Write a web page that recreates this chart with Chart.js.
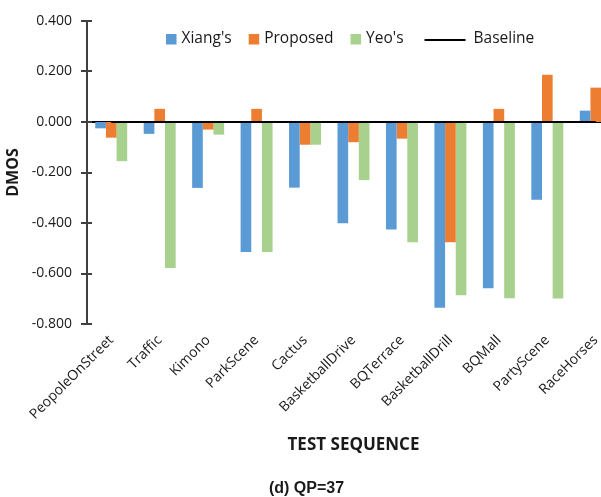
<!DOCTYPE html>
<html>
<head>
<meta charset="utf-8">
<script src="https://cdn.jsdelivr.net/npm/chart.js@4.4.0/dist/chart.umd.min.js"></script>
<style>
  html, body { margin: 0; padding: 0; background: #fff; overflow: hidden; }
  #wrap { width: 622px; height: 497px; position: relative; }
</style>
</head>
<body>
<div id="wrap"><canvas id="c"></canvas></div>
<script>
// Test sequences on the x axis
const sequences = ['PeopoleOnStreet', 'Traffic', 'Kimono', 'ParkScene', 'Cactus',
  'BasketballDrive', 'BQTerrace', 'BasketballDrill', 'BQMall', 'PartyScene', 'RaceHorses'];

// DMOS per method
const xiang    = [-0.025, -0.047, -0.261, -0.515, -0.260, -0.401, -0.426, -0.736, -0.658, -0.308, 0.045];
const proposed = [-0.062,  0.052, -0.030,  0.052, -0.090, -0.080, -0.066, -0.476,  0.052,  0.187, 0.136];
const yeo      = [-0.155, -0.578, -0.050, -0.515, -0.090, -0.230, -0.476, -0.686, -0.698, -0.699, null];
const baseline = [0, 0, 0, 0, 0, 0, 0, 0, 0, 0, 0];

// Y axis range and tick step
const yMin = -0.8, yMax = 0.4, yStep = 0.2;

const caption = '(d) QP=37';

const COLORS = { xiang: '#5B9BD5', proposed: '#ED7D31', yeo: '#A9D18E', baseline: '#000000' };
const AXIS_COLOR = '#404040';
const TEXT_COLOR = '#1a1a1a';
const PAD_LEFT = 2;
const Y_AXIS_RIGHT = 87;
const X_AXIS_HEIGHT = 131;

// Cross ticks on the value axis (both sides of the axis line)
const crossTicks = {
  id: 'crossTicks',
  afterDraw(chart) {
    const y = chart.scales.y, ctx = chart.ctx;
    const x0 = chart.chartArea.left;
    ctx.save();
    ctx.strokeStyle = AXIS_COLOR;
    ctx.lineWidth = 2;
    y.ticks.forEach((t, i) => {
      const py = Math.round(y.getPixelForTick(i));
      ctx.beginPath();
      ctx.moveTo(x0 - 6, py);
      ctx.lineTo(x0 + 5, py);
      ctx.stroke();
    });
    ctx.restore();
  }
};

// Legend row: squares for bars, a short line for the baseline
const legendRow = {
  id: 'legendRow',
  afterDraw(chart) {
    const ctx = chart.ctx;
    const cy = 39;
    let x = 166;
    ctx.save();
    ctx.font = '15.5px "Open Sans"';
    ctx.textBaseline = 'middle';
    chart.data.datasets.forEach((ds, i) => {
      if (ds.type === 'line') {
        ctx.strokeStyle = ds.borderColor;
        ctx.lineWidth = 2;
        ctx.beginPath();
        ctx.moveTo(x, cy + 1);
        ctx.lineTo(x + 41, cy + 1);
        ctx.stroke();
        x += 41 + 8;
      } else {
        ctx.fillStyle = ds.backgroundColor;
        ctx.fillRect(x, cy - 5, 10.5, 10.5);
        x += 10.5 + 5;
      }
      ctx.fillStyle = TEXT_COLOR;
      ctx.fillText(ds.label, x, cy);
      x += ctx.measureText(ds.label).width + (i === 2 ? 21 : 17);
    });
    ctx.restore();
  }
};

// Caption under the chart
const captionText = {
  id: 'captionText',
  afterDraw(chart) {
    const ctx = chart.ctx;
    ctx.save();
    ctx.font = 'bold 16px "Liberation Sans"';
    ctx.fillStyle = TEXT_COLOR;
    ctx.textAlign = 'center';
    ctx.textBaseline = 'middle';
    ctx.fillText(caption, 306.5, 489);
    ctx.restore();
  }
};

new Chart(document.getElementById('c'), {
  type: 'bar',
  data: {
    labels: sequences,
    datasets: [
      { label: "Xiang's", data: xiang, backgroundColor: COLORS.xiang, order: 2 },
      { label: 'Proposed', data: proposed, backgroundColor: COLORS.proposed, order: 2 },
      { label: "Yeo's", data: yeo, backgroundColor: COLORS.yeo, order: 2 },
      { type: 'line', label: 'Baseline', data: baseline, borderColor: COLORS.baseline,
        backgroundColor: COLORS.baseline, borderWidth: 2, pointRadius: 0, order: 1 }
    ]
  },
  options: {
    responsive: true,
    maintainAspectRatio: false,
    animation: false,
    datasets: { bar: { categoryPercentage: 0.66, barPercentage: 1.0 } },
    layout: { padding: { top: 21, right: 2, bottom: 42, left: PAD_LEFT } },
    plugins: {
      legend: { display: false },
      tooltip: { enabled: false },
      title: { display: false }
    },
    scales: {
      x: {
        grid: { display: false, drawTicks: false },
        border: { display: false },
        ticks: {
          autoSkip: false, minRotation: 45, maxRotation: 45,
          color: TEXT_COLOR, font: { family: 'Open Sans', size: 14 }, padding: 8
        },
        title: {
          display: true, text: 'TEST SEQUENCE', color: TEXT_COLOR,
          font: { family: 'Open Sans', size: 17, weight: 'bold' },
          padding: { top: 4, bottom: 0 }
        },
        afterFit(scale) {
          scale.height = X_AXIS_HEIGHT;
          scale.paddingLeft = 0; scale.paddingRight = 0;
          scale.paddingTop = 0; scale.paddingBottom = 0;
        }
      },
      y: {
        min: yMin, max: yMax,
        ticks: {
          stepSize: yStep, color: TEXT_COLOR, padding: 15,
          font: { family: 'Open Sans', size: 14 },
          callback: v => Number(v).toFixed(3)
        },
        grid: {
          drawTicks: false,
          lineWidth: c => (Math.abs(c.tick.value) < 1e-9 ? 2 : 0),
          color: c => (Math.abs(c.tick.value) < 1e-9 ? '#000000' : 'rgba(0,0,0,0)')
        },
        border: { display: true, color: AXIS_COLOR, width: 2 },
        title: {
          display: true, text: 'DMOS', color: TEXT_COLOR,
          font: { family: 'Open Sans', size: 16, weight: 'bold' },
          padding: { top: 2, bottom: 7 }
        },
        afterFit(scale) {
          scale.width = Y_AXIS_RIGHT - PAD_LEFT;
          scale.paddingTop = 0; scale.paddingBottom = 0;
        }
      }
    }
  },
  plugins: [crossTicks, legendRow, captionText]
});
</script>
</body>
</html>
